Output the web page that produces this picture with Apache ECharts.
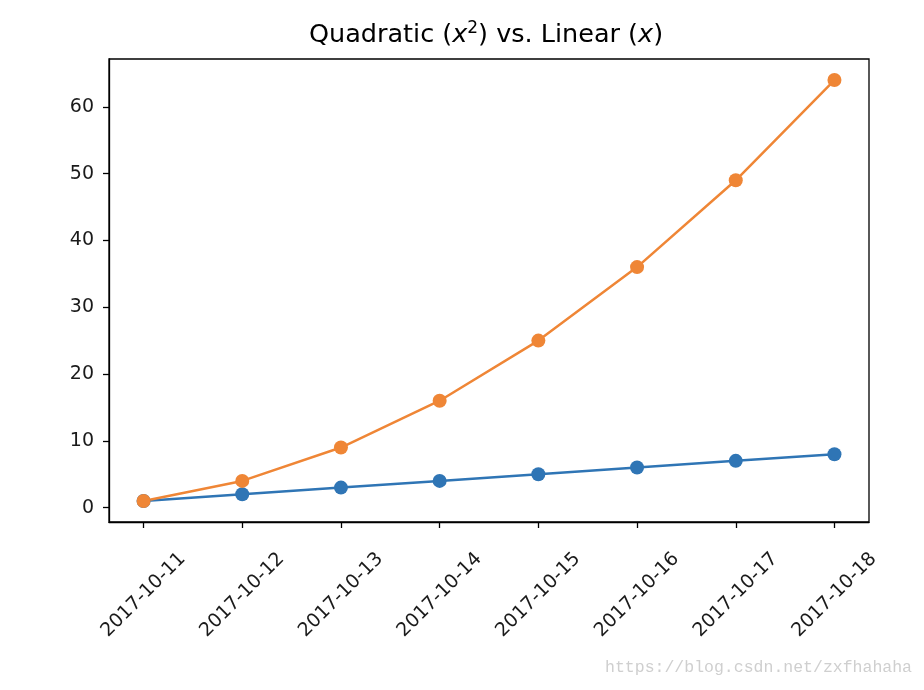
<!DOCTYPE html>
<html><head><meta charset="utf-8">
<script src="https://cdn.jsdelivr.net/npm/echarts@6/dist/echarts.min.js"></script>
<style>html,body{margin:0;padding:0;background:#fff}#c{width:924px;height:690px}</style>
</head><body><div id="c"></div>
<script>
const categories = ['2017-10-11','2017-10-12','2017-10-13','2017-10-14','2017-10-15','2017-10-16','2017-10-17','2017-10-18'];
const linear = [1,2,3,4,5,6,7,8];
const quadratic = [1,4,9,16,25,36,49,64];
const yTicks = [0,10,20,30,40,50,60];

const xIdx = categories.map((_, i) => i);
const chart = echarts.init(document.getElementById('c'));
const font = 'DejaVu Sans';
chart.setOption({
  animation: false,
  grid: {left: 109, right: 55, top: 59, bottom: 168, show: true, borderColor: '#000', borderWidth: 1.3},
  xAxis: {
    type: 'value', min: -0.35, max: 7.35,
    splitLine: {show: false},
    axisLine: {show: true, onZero: false, lineStyle: {color: '#000', width: 1.3}},
    axisTick: {show: true, length: 6, customValues: xIdx, lineStyle: {color: '#000', width: 1.3}},
    axisLabel: {customValues: xIdx, rotate: 45, margin: 73, align: 'center', verticalAlign: 'middle',
      color: '#1a1a1a', fontFamily: font, fontSize: 19,
      formatter: v => categories[Math.round(v)]}
  },
  yAxis: {
    type: 'value', min: -2.15, max: 67.15,
    splitLine: {show: false},
    axisLine: {show: true, onZero: false, lineStyle: {color: '#000', width: 1.3}},
    axisTick: {show: true, length: 6, customValues: yTicks, lineStyle: {color: '#000', width: 1.3}},
    axisLabel: {customValues: yTicks, margin: 15, color: '#1a1a1a', fontFamily: font, fontSize: 19}
  },
  series: [
    {type: 'line', data: linear.map((v, i) => [i, v]), symbol: 'circle', symbolSize: 14,
      itemStyle: {color: '#2f75b5'}, lineStyle: {color: '#2f75b5', width: 2.5}},
    {type: 'line', data: quadratic.map((v, i) => [i, v]), symbol: 'circle', symbolSize: 14,
      itemStyle: {color: '#ef8636'}, lineStyle: {color: '#ef8636', width: 2.5}}
  ],
  graphic: [
    {type: 'text', x: 486, y: 35, style: {
      text: '{a|Quadratic (}{i|x}{s|2}{a|) vs. Linear (}{i|x}{a|)}',
      align: 'center', verticalAlign: 'middle',
      rich: {
        a: {fontFamily: font, fontSize: 25.5, color: '#111'},
        i: {fontFamily: font, fontStyle: 'italic', fontSize: 25.5, color: '#111'},
        s: {fontFamily: font, fontSize: 17, color: '#111', verticalAlign: 'top', padding: [0,0,13,0]}
      }
    }},
    {type: 'text', right: 12, top: 659, style: {
      text: 'https://blog.csdn.net/zxfhahaha', font: '16.5px "Liberation Mono"', fill: '#cfcfcf'
    }}
  ]
});
</script></body></html>
